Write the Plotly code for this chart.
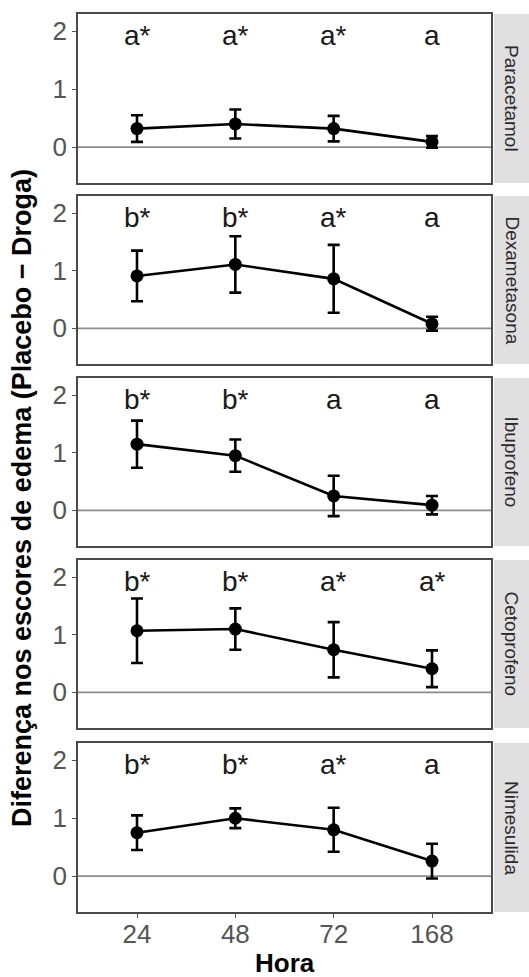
import plotly.graph_objects as go

horas = ["24", "48", "72", "168"]
drogas = ["Paracetamol", "Dexametasona", "Ibuprofeno", "Cetoprofeno", "Nimesulida"]

paracetamol_media = [0.32, 0.40, 0.32, 0.09]
paracetamol_erro = [0.23, 0.25, 0.22, 0.10]
paracetamol_letras = ["a*", "a*", "a*", "a"]

dexametasona_media = [0.91, 1.11, 0.86, 0.08]
dexametasona_erro = [0.44, 0.49, 0.59, 0.12]
dexametasona_letras = ["b*", "b*", "a*", "a"]

ibuprofeno_media = [1.15, 0.95, 0.25, 0.09]
ibuprofeno_erro = [0.41, 0.28, 0.35, 0.16]
ibuprofeno_letras = ["b*", "b*", "a", "a"]

cetoprofeno_media = [1.07, 1.10, 0.74, 0.41]
cetoprofeno_erro = [0.56, 0.36, 0.48, 0.32]
cetoprofeno_letras = ["b*", "b*", "a*", "a*"]

nimesulida_media = [0.75, 1.00, 0.80, 0.26]
nimesulida_erro = [0.30, 0.17, 0.38, 0.30]
nimesulida_letras = ["b*", "b*", "a*", "a"]

y_ticks = [0, 1, 2]
letra_y = 1.93

medias = [paracetamol_media, dexametasona_media, ibuprofeno_media, cetoprofeno_media, nimesulida_media]
erros = [paracetamol_erro, dexametasona_erro, ibuprofeno_erro, cetoprofeno_erro, nimesulida_erro]
letras = [paracetamol_letras, dexametasona_letras, ibuprofeno_letras, cetoprofeno_letras, nimesulida_letras]

W, H = 529, 977
panels_px = [(14, 183), (196, 364), (378, 546), (560, 728), (743, 912)]
x_left, x_right = 78, 491
strip_left = 494

fig = go.Figure()
layout = dict(
    width=W, height=H,
    margin=dict(l=0, r=0, t=0, b=0),
    paper_bgcolor="white", plot_bgcolor="white",
    showlegend=False,
    font=dict(family="Liberation Sans, Arial, sans-serif"),
)
shapes = []
annotations = []
AX = "#4a4a4a"
TICKC = "#555555"

for i, nome in enumerate(drogas):
    n = i + 1
    xa = "x" if n == 1 else f"x{n}"
    ya = "y" if n == 1 else f"y{n}"
    top, bot = panels_px[i]
    dom_y = [1 - bot / H, 1 - top / H]
    is_bottom = (n == len(drogas))
    layout["xaxis" if n == 1 else f"xaxis{n}"] = dict(
        domain=[x_left / W, x_right / W],
        anchor=ya,
        type="category",
        categoryorder="array", categoryarray=horas,
        range=[-0.6, 3.6],
        showgrid=False, zeroline=False,
        showline=True, mirror=True, linecolor=AX, linewidth=1.6,
        ticks="outside" if is_bottom else "",
        ticklen=4, tickwidth=1.2, tickcolor=TICKC,
        showticklabels=is_bottom,
        ticklabelstandoff=-6,
        tickfont=dict(size=26, color="#555555"),
    )
    layout["yaxis" if n == 1 else f"yaxis{n}"] = dict(
        domain=dom_y,
        anchor=xa,
        range=[-0.62, 2.3],
        tickvals=y_ticks,
        showgrid=False, zeroline=False,
        showline=True, mirror=True, linecolor=AX, linewidth=1.6,
        ticks="outside", ticklen=4, tickwidth=1.2, tickcolor=TICKC,
        tickfont=dict(size=26, color="#555555"),
    )
    shapes.append(dict(type="line", xref=f"{xa} domain", yref=ya,
                       x0=0, x1=1, y0=0, y1=0,
                       line=dict(color="#8c8c8c", width=1.6), layer="below"))
    shapes.append(dict(type="rect", xref="paper", yref="paper",
                       x0=strip_left / W, x1=1.0, y0=dom_y[0], y1=dom_y[1],
                       fillcolor="#e0e0e0", line=dict(width=0), layer="below"))
    annotations.append(dict(xref="paper", yref="paper",
                            x=(strip_left + W) / 2 / W, y=(dom_y[0] + dom_y[1]) / 2,
                            text=nome, textangle=90, showarrow=False,
                            font=dict(size=19, color="#2a2a2a"),
                            xanchor="center", yanchor="middle"))
    fig.add_trace(go.Scatter(
        x=horas, y=medias[i], xaxis=xa, yaxis=ya,
        mode="lines+markers",
        line=dict(color="black", width=2.6),
        marker=dict(color="black", size=13),
        error_y=dict(type="data", array=erros[i], visible=True,
                     color="black", thickness=2.6, width=6),
        hoverinfo="skip",
    ))
    for j, l in enumerate(letras[i]):
        annotations.append(dict(xref=xa, yref=ya, x=j, y=letra_y, text=l,
                                showarrow=False, xanchor="center", yanchor="middle",
                                font=dict(size=28, color="#1a1a1a")))

annotations.append(dict(xref="paper", yref="paper", x=(x_left + x_right) / 2 / W, y=1 - 963 / H,
                        text="<b>Hora</b>", showarrow=False, xanchor="center", yanchor="middle",
                        font=dict(size=26, color="black")))
annotations.append(dict(xref="paper", yref="paper", x=22 / W, y=1 - 498 / H,
                        text="<b>Diferença nos escores de edema (Placebo − Droga)</b>",
                        textangle=-90, showarrow=False, xanchor="center", yanchor="middle",
                        font=dict(size=27, color="black")))

layout["shapes"] = shapes
layout["annotations"] = annotations
fig.update_layout(**layout)
fig.write_html("out.html")
